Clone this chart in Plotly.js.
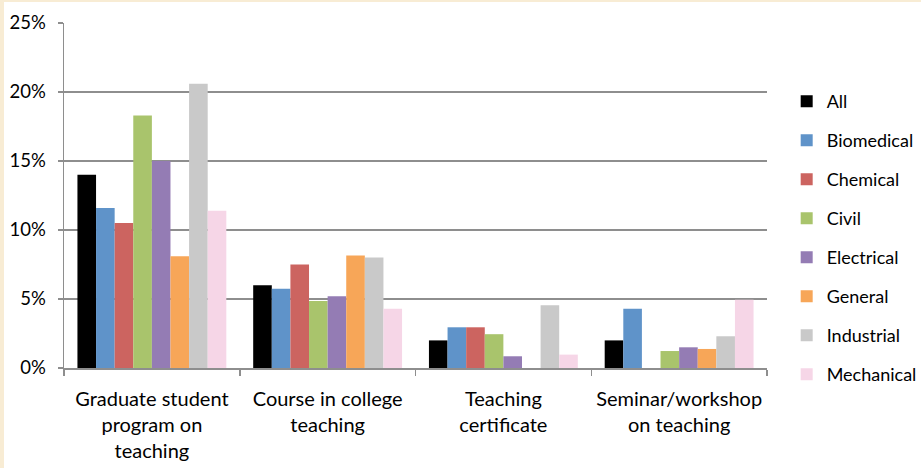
<!DOCTYPE html>
<html>
<head>
<meta charset="utf-8">
<script src="https://cdn.plot.ly/plotly-3.0.1.min.js"></script>
<style>
  html, body { margin: 0; padding: 0; background: #f8ecd4; width: 921px; height: 468px; overflow: hidden; }
  #chart { position: absolute; left: 4px; top: 2px; width: 917px; height: 466px; background: #ffffff; }
</style>
</head>
<body>
<div id="chart"></div>
<script>
const categories = [
  "Graduate student<br>program on<br>teaching",
  "Course in college<br>teaching",
  "Teaching<br>certificate",
  "Seminar/workshop<br>on teaching"
];
const seriesNames = ["All", "Biomedical", "Chemical", "Civil", "Electrical", "General", "Industrial", "Mechanical"];
const seriesColors = ["#000000", "#5f93c9", "#cc6460", "#a9c46c", "#947cb4", "#f7a658", "#c9c9c9", "#f6d6e7"];
const allVals        = [0.140, 0.060, 0.020, 0.020];
const biomedicalVals = [0.116, 0.0575, 0.0295, 0.043];
const chemicalVals   = [0.105, 0.075, 0.0295, 0];
const civilVals      = [0.183, 0.0485, 0.0245, 0.0123];
const electricalVals = [0.150, 0.052, 0.0085, 0.015];
const generalVals    = [0.081, 0.0815, 0, 0.0138];
const industrialVals = [0.206, 0.080, 0.0455, 0.023];
const mechanicalVals = [0.114, 0.043, 0.0097, 0.0495];
const seriesValues = [allVals, biomedicalVals, chemicalVals, civilVals, electricalVals, generalVals, industrialVals, mechanicalVals];
const yTickVals = [0, 0.05, 0.10, 0.15, 0.20, 0.25];
const yTickText = ["0%", "5%", "10%", "15%", "20%", "25%"];

const FONT = "Lato, 'Open Sans', sans-serif";

const traces = seriesNames.map((name, i) => ({
  type: "bar",
  name: name,
  x: categories,
  y: seriesValues[i],
  marker: { color: seriesColors[i], line: { width: 0 } },
  legendgroup: name,
  hoverinfo: "none"
}));

const layout = {
  width: 917,
  height: 466,
  paper_bgcolor: "#ffffff",
  plot_bgcolor: "#ffffff",
  margin: { l: 60, r: 154, t: 21, b: 100, pad: 0, autoexpand: false },
  barmode: "group",
  bargap: 0.153,
  bargroupgap: 0,
  font: { family: FONT, size: 18, color: "#000000" },
  showlegend: true,
  legend: {
    x: 1.028, xanchor: "left",
    y: 0.826, yanchor: "top",
    font: { family: FONT, size: 18, color: "#000000" },
    tracegroupgap: 12.6,
    itemwidth: 30,
    bgcolor: "rgba(0,0,0,0)"
  },
  xaxis: {
    type: "category",
    tickson: "boundaries",
    ticks: "outside",
    ticklen: 6,
    tickcolor: "#8e8e8e",
    tickwidth: 1.5,
    showline: true,
    linecolor: "#8e8e8e",
    linewidth: 1.5,
    showgrid: false,
    ticklabelstandoff: 12,
    tickfont: { family: FONT, size: 20, color: "#000000" },
    fixedrange: true
  },
  yaxis: {
    range: [0, 0.25],
    tickvals: yTickVals,
    ticktext: yTickText,
    ticks: "outside",
    ticklen: 5,
    tickcolor: "#8e8e8e",
    tickwidth: 1.5,
    showline: true,
    linecolor: "#8e8e8e",
    linewidth: 1.5,
    showgrid: true,
    gridcolor: "#8e8e8e",
    gridwidth: 1.5,
    zeroline: false,
    ticklabelstandoff: 8,
    tickfont: { family: FONT, size: 18.5, color: "#000000" },
    fixedrange: true
  }
};

Plotly.newPlot("chart", traces, layout, { displayModeBar: false, staticPlot: true });
</script>
</body>
</html>
